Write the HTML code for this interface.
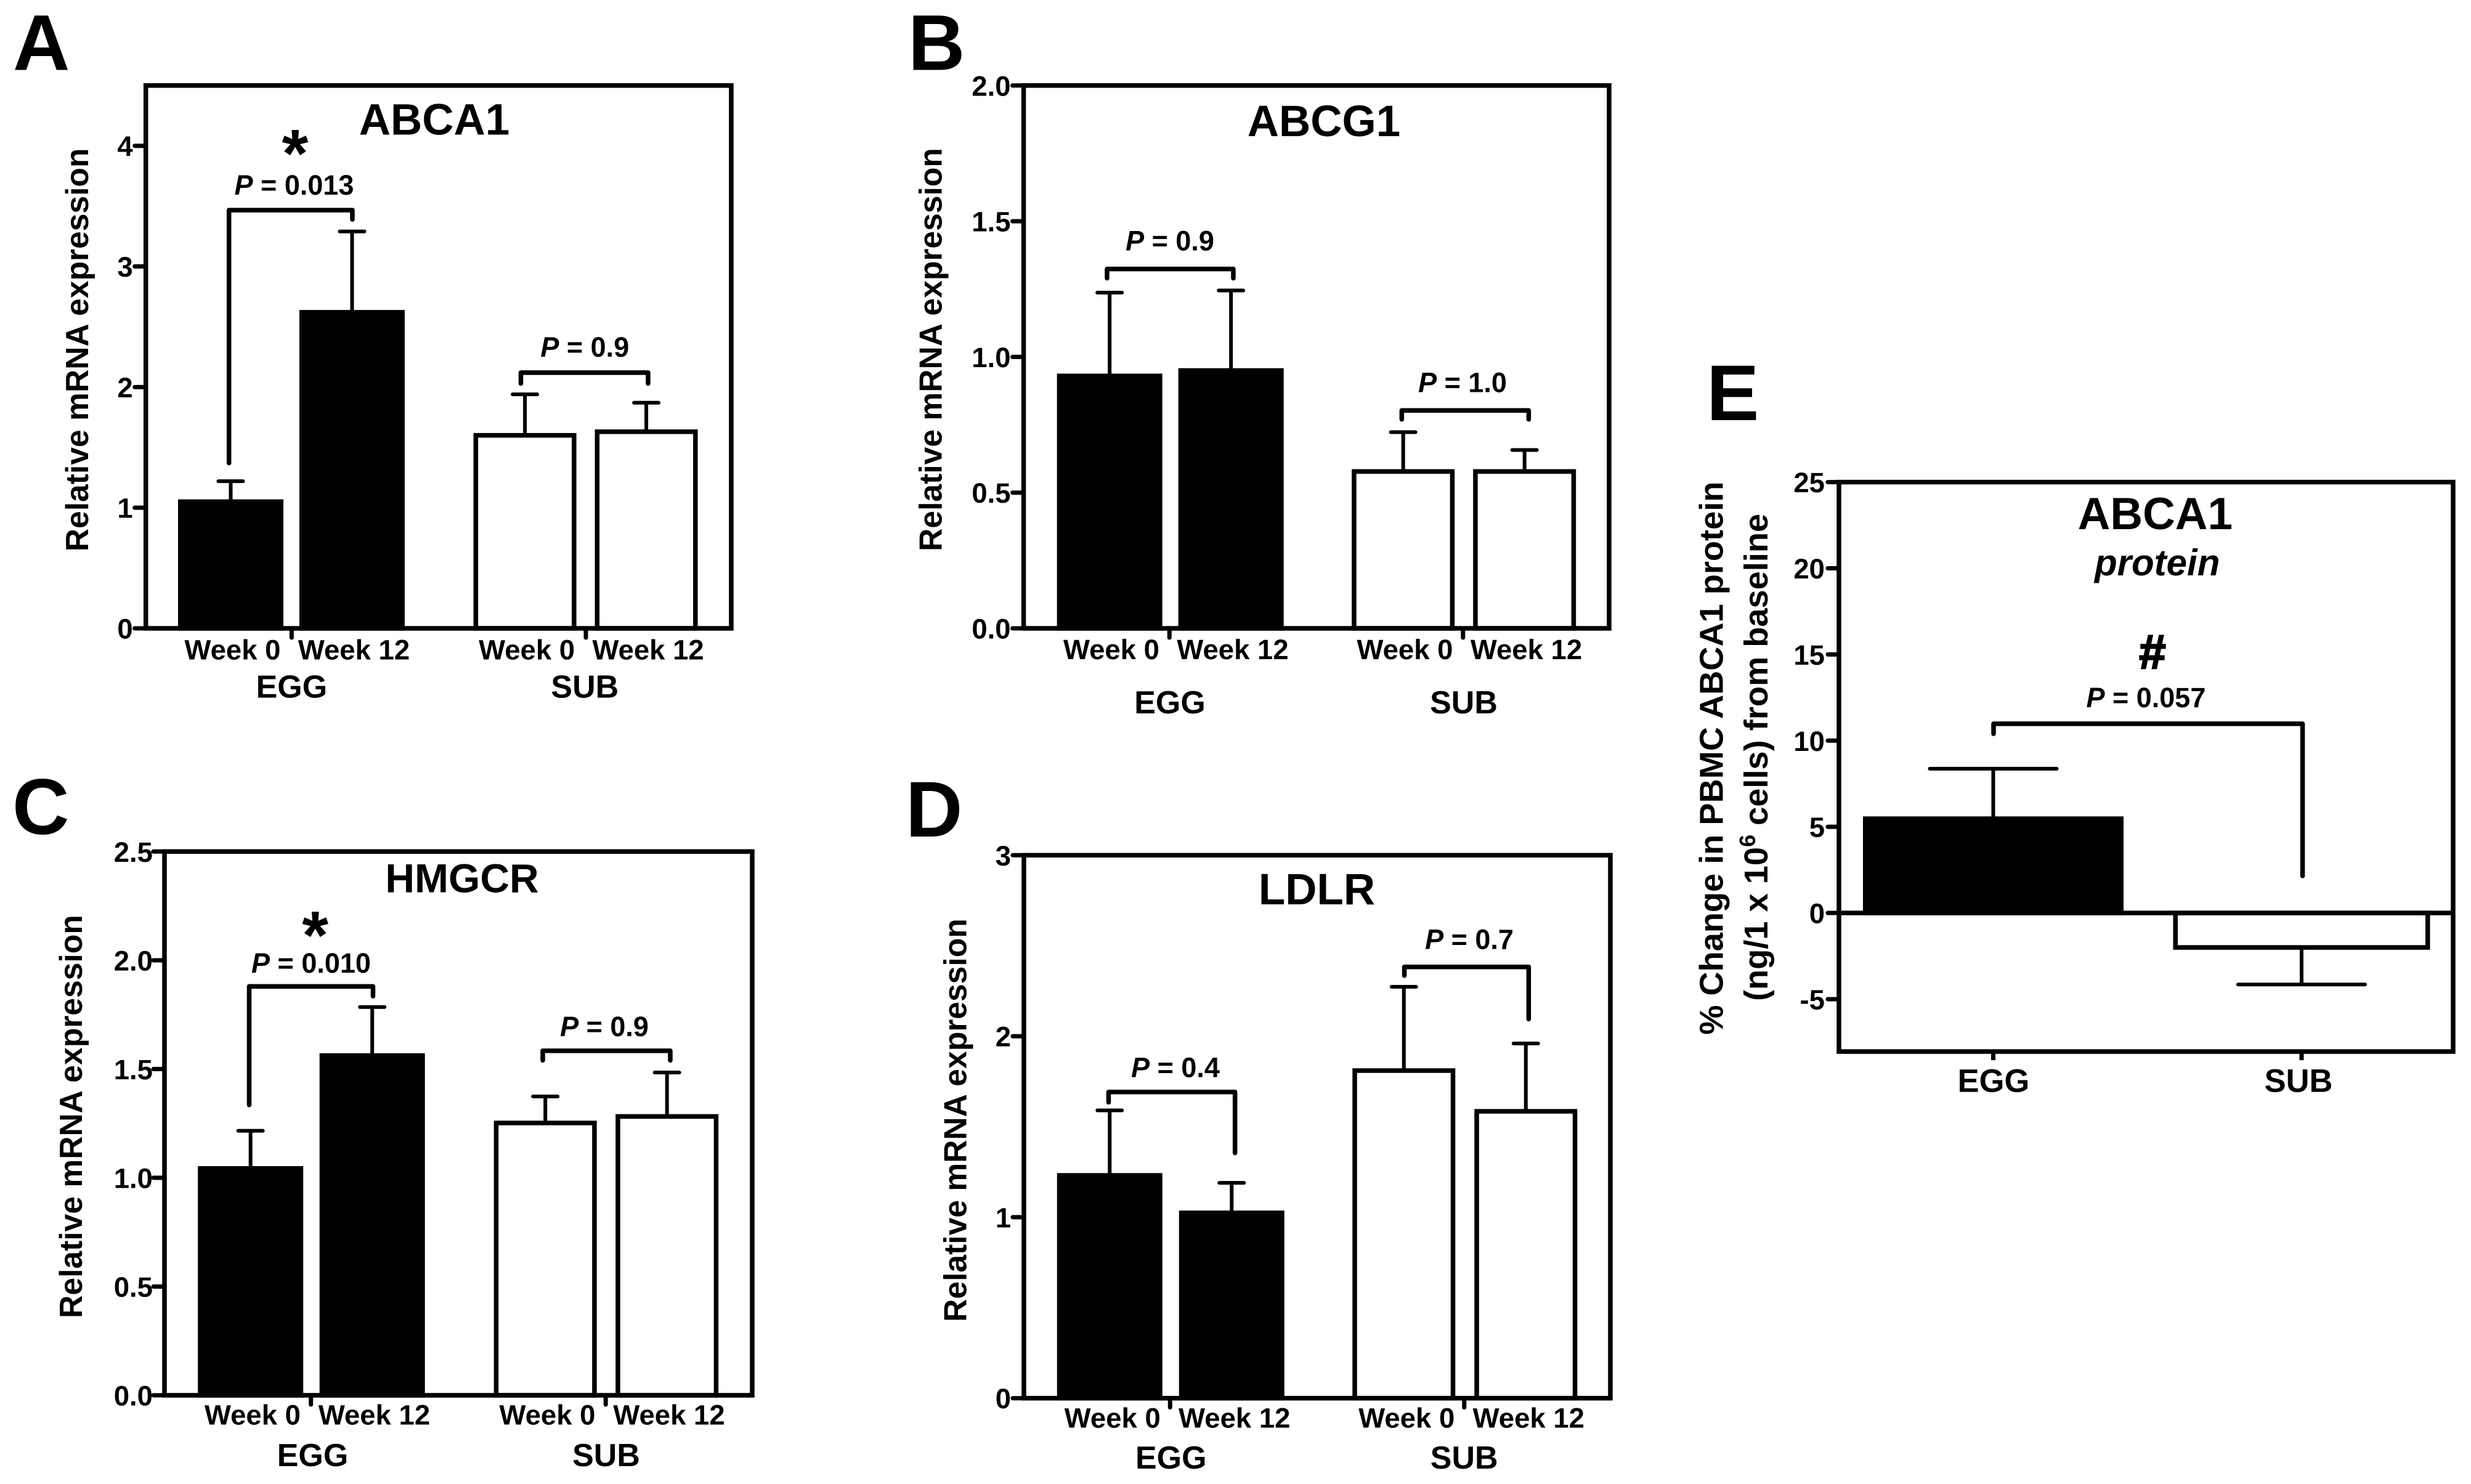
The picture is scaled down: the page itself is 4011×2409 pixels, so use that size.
<!DOCTYPE html>
<html lang="en">
<head>
<meta charset="utf-8">
<title>ABCA1, ABCG1, HMGCR and LDLR expression</title>
<style>
html,body{margin:0;padding:0;background:#fff;}
svg{display:block;}
text{font-family:"Liberation Sans",Arial,sans-serif;font-weight:bold;fill:#000;}
.letter{font-size:128px;}
.title{font-size:71px;text-anchor:middle;}
.ylab{font-size:51.6px;text-anchor:middle;}
.group{font-size:52px;text-anchor:middle;}
.p{font-size:45px;text-anchor:middle;}
.star{font-size:110px;text-anchor:middle;}
.it{font-style:italic;}
</style>
</head>
<body>
<svg id="figure" xmlns="http://www.w3.org/2000/svg" width="4011" height="2409" viewBox="0 0 4011 2409">
  <rect width="4011" height="2409" fill="#fff"/>

  <g id="panel-a">
    <text class="letter" x="21" y="113.5">A</text>
    <g id="marks-a"></g>
    <text class="title" x="705" y="218.6">ABCA1</text>
    <text class="ylab" transform="translate(142.9,567.9) rotate(-90)">Relative mRNA expression</text>
    <text class="group" x="473.4" y="1132.7">EGG</text>
    <text class="group" x="949.3" y="1132.7">SUB</text>
    <text class="p" x="477.5" y="316"><tspan class="it">P</tspan> = 0.013</text>
    <text class="p" x="949.3" y="579"><tspan class="it">P</tspan> = 0.9</text>
    <text class="star" x="479" y="287">*</text>
  </g>

  <g id="panel-b">
    <text class="letter" x="1474" y="113.5">B</text>
    <g id="marks-b"></g>
    <text class="title" x="2149" y="220.9">ABCG1</text>
    <text class="ylab" transform="translate(1528.7,567.5) rotate(-90)">Relative mRNA expression</text>
    <text class="group" x="1899" y="1158">EGG</text>
    <text class="group" x="2376" y="1158">SUB</text>
    <text class="p" x="1899" y="406.4"><tspan class="it">P</tspan> = 0.9</text>
    <text class="p" x="2374" y="636.5"><tspan class="it">P</tspan> = 1.0</text>
  </g>

  <g id="panel-c">
    <text class="letter" x="20" y="1354">C</text>
    <g id="marks-c"></g>
    <text class="title" x="750" y="1448.5" style="font-size:66px">HMGCR</text>
    <text class="ylab" transform="translate(132.9,1812.5) rotate(-90)">Relative mRNA expression</text>
    <text class="group" x="507.5" y="2380">EGG</text>
    <text class="group" x="984" y="2380">SUB</text>
    <text class="p" x="505" y="1579"><tspan class="it">P</tspan> = 0.010</text>
    <text class="p" x="981" y="1682"><tspan class="it">P</tspan> = 0.9</text>
    <text class="star" x="511.6" y="1556">*</text>
  </g>

  <g id="panel-d">
    <text class="letter" x="1470" y="1358">D</text>
    <g id="marks-d"></g>
    <text class="title" x="2137.5" y="1468">LDLR</text>
    <text class="ylab" transform="translate(1568.6,1818.5) rotate(-90)">Relative mRNA expression</text>
    <text class="group" x="1900.8" y="2384">EGG</text>
    <text class="group" x="2376.7" y="2384">SUB</text>
    <text class="p" x="1908" y="1748.5"><tspan class="it">P</tspan> = 0.4</text>
    <text class="p" x="2385" y="1540.5"><tspan class="it">P</tspan> = 0.7</text>
  </g>

  <g id="panel-e">
    <text class="letter" x="2770" y="682">E</text>
    <g id="marks-e"></g>
    <text class="title" x="3498.4" y="859" style="font-size:73px">ABCA1</text>
    <text class="it" x="3501.7" y="933.8" text-anchor="middle" style="font-size:60px">protein</text>
    <text transform="translate(2796.5,1230.7) rotate(-90)" text-anchor="middle" style="font-size:54.2px">% Change in PBMC ABCA1 protein</text>
    <text transform="translate(2868.8,1229.4) rotate(-90)" text-anchor="middle" style="font-size:54.2px">(ng/1 x 10<tspan dy="-20" font-size="36">6</tspan><tspan dy="20"> cells) from baseline</tspan></text>
    <text class="p" x="3483.4" y="1148"><tspan class="it">P</tspan> = 0.057</text>
    <text x="3494" y="1085" text-anchor="middle" stroke="#000" stroke-width="2.5" style="font-size:78px">#</text>
  </g>
</svg>

<script>
// ---- data ----
const weekCategories = ['Week 0', 'Week 12', 'Week 0', 'Week 12'];
const proteinCategories = ['EGG', 'SUB'];

const abca1Values = [1.05, 2.62, 1.60, 1.63];
const abca1ErrorTops = [1.22, 3.29, 1.94, 1.87];
const abca1Ticks = [0, 1, 2, 3, 4];
const abca1TickLabels = ['0', '1', '2', '3', '4'];
const abca1BracketLevels = [3.467, 2.12];
const abca1BracketLeftEnds = [1.37, 2.03];
const abca1BracketRightEnds = [3.39, 2.03];

const abcg1Values = [0.93, 0.95, 0.578, 0.578];
const abcg1ErrorTops = [1.237, 1.245, 0.723, 0.657];
const abcg1Ticks = [0, 0.5, 1, 1.5, 2];
const abcg1TickLabels = ['0.0', '0.5', '1.0', '1.5', '2.0'];
const abcg1BracketLevels = [1.324, 0.803];
const abcg1BracketLeftEnds = [1.29, 0.77];
const abcg1BracketRightEnds = [1.29, 0.77];

const hmgcrValues = [1.043, 1.562, 1.252, 1.282];
const hmgcrErrorTops = [1.216, 1.785, 1.374, 1.484];
const hmgcrTicks = [0, 0.5, 1, 1.5, 2, 2.5];
const hmgcrTickLabels = ['0.0', '0.5', '1.0', '1.5', '2.0', '2.5'];
const hmgcrBracketLevels = [1.88, 1.584];
const hmgcrBracketLeftEnds = [1.335, 1.54];
const hmgcrBracketRightEnds = [1.835, 1.54];

const ldlrValues = [1.231, 1.024, 1.81, 1.585];
const ldlrErrorTops = [1.59, 1.19, 2.273, 1.96];
const ldlrTicks = [0, 1, 2, 3];
const ldlrTickLabels = ['0', '1', '2', '3'];
const ldlrBracketLevels = [1.692, 2.383];
const ldlrBracketLeftEnds = [1.635, 2.335];
const ldlrBracketRightEnds = [1.355, 2.095];

const proteinValues = [5.47, -2.0];
const proteinErrorEnds = [8.37, -4.15];
const proteinTicks = [-5, 0, 5, 10, 15, 20, 25];
const proteinTickLabels = ['-5', '0', '5', '10', '15', '20', '25'];
const proteinBracketLevels = [10.98];
const proteinBracketLeftEnds = [10.4];
const proteinBracketRightEnds = [2.15];

const barFillsByGroup = ['#000', '#fff'];

// ---- drawing ----
const SVG_NS = 'http://www.w3.org/2000/svg';
const LINE_W = 7.5;

function make(parent, tag, attrs) {
  const el = document.createElementNS(SVG_NS, tag);
  for (const k in attrs) el.setAttribute(k, attrs[k]);
  parent.appendChild(el);
  return el;
}

function yScale(p) {
  return v => p.bottom - (v - p.yMin) * (p.bottom - p.top) / (p.yMax - p.yMin);
}

function drawAxes(root, p, y, ticks, tickLabels) {
  ticks.forEach((t, i) => {
    const tick = make(root, 'line', { x1: p.left - 18, x2: p.left, y1: y(t), y2: y(t), stroke: '#000', 'stroke-width': 7, 'stroke-linecap': 'round' });
    
    
    const label = make(root, 'text', { x: p.left - p.labelGap, y: y(t) + 16.5, 'text-anchor': 'end', 'font-size': 45.5 });
    
    
    label.textContent = tickLabels[i];
  });
}

function drawFrame(root, p) {
  const frame = make(root, 'rect', { x: p.left, y: p.top, width: p.right - p.left, height: p.bottom - p.top, fill: 'none', stroke: '#000', 'stroke-width': LINE_W });
  
  
}

function drawBar(root, y, cx, width, value, errorEnd, fill, capWidth, zero) {
  const v0 = y(zero), v1 = y(value), e = y(errorEnd);
  const stem = make(root, 'line', { x1: cx, x2: cx, y1: v1, y2: e, stroke: '#000', 'stroke-width': 6 });
  
  
  const cap = make(root, 'line', { x1: cx - capWidth / 2 + 3, x2: cx + capWidth / 2 - 3, y1: e, y2: e, stroke: '#000', 'stroke-width': 6, 'stroke-linecap': 'round' });
  
  
  const bar = make(root, 'rect', { x: cx - width / 2 + LINE_W / 2, width: width - LINE_W, y: Math.min(v0, v1), height: Math.abs(v0 - v1), fill: fill, stroke: '#000', 'stroke-width': LINE_W });
  
  
}

function drawBrackets(root, y, xs, levels, leftEnds, rightEnds) {
  levels.forEach((lvl, i) => {
    const pts = [[xs[i][0], y(leftEnds[i])], [xs[i][0], y(lvl)], [xs[i][1], y(lvl)], [xs[i][1], y(rightEnds[i])]];
    const br = make(root, 'polyline', { points: pts.map(q => q.join(',')).join(' '), fill: 'none', stroke: '#000', 'stroke-width': LINE_W, 'stroke-linecap': 'round', 'stroke-linejoin': 'round' });
    
    
  });
}

function drawMrnaPanel(p, values, errorTops, ticks, tickLabels, levels, leftEnds, rightEnds) {
  const root = document.getElementById(p.target);
  const y = yScale(p);
  drawAxes(root, p, y, ticks, tickLabels);
  values.forEach((v, i) => {
    const group = Math.floor(i / 2), week = i % 2;
    const cx = p.x0 + group * p.groupGap + week * p.weekGap;
    drawBar(root, y, cx, group === 0 ? 171 : 167, v, errorTops[i], barFillsByGroup[group], 46, 0);
    const label = make(root, 'text', { x: p.labelX0 + group * p.groupGap + week * p.weekGap, y: p.labelY, 'text-anchor': 'middle', 'font-size': 45.5 });
    
    
    label.textContent = weekCategories[i];
  });
  drawFrame(root, p);
  [0, 1].forEach(g => {
    const tx = p.tickX + g * p.groupGap;
    const tick = make(root, 'line', { x1: tx, x2: tx, y1: p.bottom, y2: p.bottom + 15, stroke: '#000', 'stroke-width': 7, 'stroke-linecap': 'round' });
    
    
  });
  drawBrackets(root, y, p.bracketX, levels, leftEnds, rightEnds);
}

drawMrnaPanel({ target: 'marks-a', left: 236.7, right: 1187, top: 138.8, bottom: 1020, yMin: 0, yMax: 4.5, labelGap: 21,
  x0: 374.5, weekGap: 197, groupGap: 477.6, labelX0: 377.5, labelY: 1070.5, tickX: 473.4,
  bracketX: [[371.7, 572], [845.5, 1052]] },
  abca1Values, abca1ErrorTops, abca1Ticks, abca1TickLabels, abca1BracketLevels, abca1BracketLeftEnds, abca1BracketRightEnds);

drawMrnaPanel({ target: 'marks-b', left: 1661.6, right: 2612, top: 138.8, bottom: 1020, yMin: 0, yMax: 2, labelGap: 21,
  x0: 1801.2, weekGap: 197, groupGap: 476.5, labelX0: 1804, labelY: 1069.8, tickX: 1898.3,
  bracketX: [[1797, 2002], [2275.4, 2481.4]] },
  abcg1Values, abcg1ErrorTops, abcg1Ticks, abcg1TickLabels, abcg1BracketLevels, abcg1BracketLeftEnds, abcg1BracketRightEnds);

drawMrnaPanel({ target: 'marks-c', left: 267, right: 1221, top: 1382.3, bottom: 2265, yMin: 0, yMax: 2.5, labelGap: 19,
  x0: 406.7, weekGap: 197.5, groupGap: 478.5, labelX0: 410, labelY: 2312.7, tickX: 504.7,
  bracketX: [[404.5, 605.5], [881, 1088]] },
  hmgcrValues, hmgcrErrorTops, hmgcrTicks, hmgcrTickLabels, hmgcrBracketLevels, hmgcrBracketLeftEnds, hmgcrBracketRightEnds);

drawMrnaPanel({ target: 'marks-d', left: 1662, right: 2614, top: 1388.3, bottom: 2269.7, yMin: 0, yMax: 3, labelGap: 21,
  x0: 1801.3, weekGap: 198, groupGap: 477.5, labelX0: 1805.8, labelY: 2317.3, tickX: 1899.3,
  bracketX: [[1799.5, 2004.7], [2279.6, 2481.4]] },
  ldlrValues, ldlrErrorTops, ldlrTicks, ldlrTickLabels, ldlrBracketLevels, ldlrBracketLeftEnds, ldlrBracketRightEnds);

(function drawProteinPanel() {
  const p = { left: 2985, right: 3982, top: 782.6, bottom: 1707, yMin: -8.04, yMax: 25, labelGap: 23 };
  const root = document.getElementById('marks-e');
  const y = yScale(p);
  const centers = [3235.5, 3736];
  const widths = [423, 417];
  const tickXs = [3236, 3731];
  drawAxes(root, p, y, proteinTicks, proteinTickLabels);
  proteinValues.forEach((v, i) => {
    drawBar(root, y, centers[i], widths[i], v, proteinErrorEnds[i], barFillsByGroup[i], 212, 0);
    const label = make(root, 'text', { x: tickXs[i], y: 1772.6, 'text-anchor': 'middle', 'font-size': 52.5 });
    
    
    label.textContent = proteinCategories[i];
    const tick = make(root, 'line', { x1: centers[i], x2: centers[i], y1: p.bottom, y2: p.bottom + 14, stroke: '#000', 'stroke-width': 7 });
    
    
  });
  const zero = make(root, 'line', { x1: p.left, x2: p.right, y1: y(0), y2: y(0), stroke: '#000', 'stroke-width': LINE_W });
  
  
  drawFrame(root, p);
  drawBrackets(root, y, [[3236, 3737.6]], proteinBracketLevels, proteinBracketLeftEnds, proteinBracketRightEnds);
})();
</script>
</body>
</html>
